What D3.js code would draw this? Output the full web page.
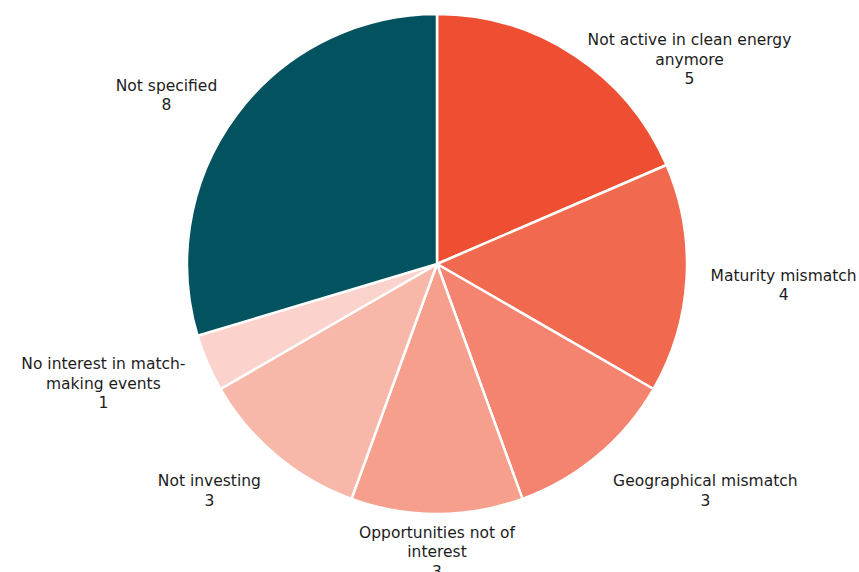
<!DOCTYPE html>
<html>
<head>
<meta charset="utf-8">
<script src="https://cdn.jsdelivr.net/npm/d3@7"></script>
<style>
  html, body { margin: 0; padding: 0; background: #ffffff; }
  svg { display: block; }
  text { font-family: "DejaVu Sans", Verdana, sans-serif; font-size: 15.5px; fill: #1c1c1c; }
</style>
</head>
<body>
<svg id="chart" width="859" height="572"></svg>
<script>
// Reasons given, in clockwise order from 12 o'clock (line breaks mark label wrapping)
const categories = [
  "Not active in clean energy\nanymore",
  "Maturity mismatch",
  "Geographical mismatch",
  "Opportunities not of\ninterest",
  "Not investing",
  "No interest in match-\nmaking events",
  "Not specified"
];
const counts = [5, 4, 3, 3, 3, 1, 8];
const sliceColors = ["#ee4f33", "#f16a50", "#f4846f", "#f59f8c", "#f8b8a9", "#fbd3cc", "#02535f"];

const width = 859, height = 572;
const cx = 437, cy = 264, radius = 250;
const labelRadius = 274;
const lineHeight = 19.6;

const svg = d3.select("#chart");
const g = svg.append("g").attr("transform", `translate(${cx},${cy})`);

const data = categories.map((c, i) => ({ label: c, value: counts[i], color: sliceColors[i] }));

const pie = d3.pie().value(d => d.value).sort(null);
const arc = d3.arc().innerRadius(0).outerRadius(radius);
const arcs = pie(data);

g.selectAll("path.slice")
  .data(arcs)
  .join("path")
  .attr("class", "slice")
  .attr("d", arc)
  .attr("fill", d => d.data.color)
  .attr("stroke", "#ffffff")
  .attr("stroke-width", 2.5)
  .attr("stroke-linejoin", "round");

// Labels sit outside the rim: each text block hangs off a point on a ring just
// beyond the pie, pushed sideways by half its width along the slice's mid-angle.
const labels = g.selectAll("g.label")
  .data(arcs)
  .join("g")
  .attr("class", "label");

labels.each(function (d) {
  const grp = d3.select(this);
  const lines = d.data.label.split("\n").concat([String(d.data.value)]);
  const t = grp.append("text").attr("text-anchor", "middle");
  lines.forEach((ln, i) => {
    t.append("tspan").attr("x", 0).attr("dy", i === 0 ? 0 : lineHeight).text(ln);
  });
  let w = 0;
  t.selectAll("tspan").each(function () { w = Math.max(w, this.getComputedTextLength()); });
  const h = lines.length * lineHeight;

  const a = (d.startAngle + d.endAngle) / 2;
  const s = Math.sin(a), c = Math.cos(a);
  const qx = labelRadius * s, qy = -labelRadius * c;
  const fx = Math.abs(s) >= 0.2 ? Math.sign(s) : s / 0.2;
  const bx = qx + fx * (w / 2);
  const push = 16 * (0.6 + 0.4 * Math.min(1, 2 * Math.abs(s)));
  let by = qy - c * push;
  // a block that would run off the top is centred level with its rim point instead
  if (cy + by - h / 2 < 0) by = -radius * c;
  const firstBaseline = by - h / 2 + lineHeight * 0.74 + 5;
  grp.attr("transform", `translate(${bx},${firstBaseline})`);
});
</script>
</body>
</html>
